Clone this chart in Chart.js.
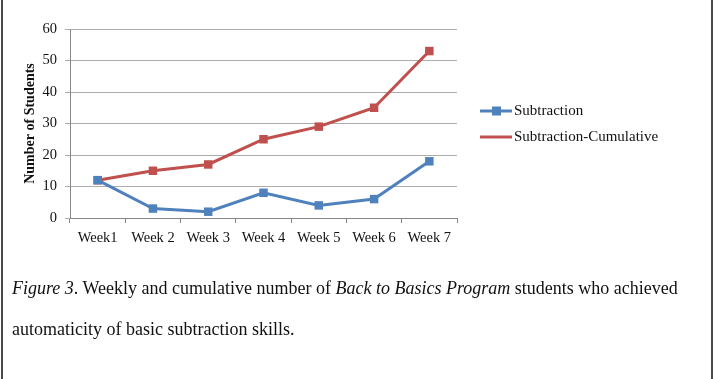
<!DOCTYPE html>
<html>
<head>
<meta charset="utf-8">
<script src="https://cdn.jsdelivr.net/npm/chart.js@4.4.1/dist/chart.umd.min.js"></script>
<style>
  html, body { margin: 0; padding: 0; background: #fff; }
  #wrap { position: relative; width: 716px; height: 379px; overflow: hidden; }
  #frame { position: absolute; left: 1px; top: -5px; width: 708px; height: 400px;
           border-left: 2px solid #4a4a4a; border-right: 2px solid #4a4a4a; }
  #chart { position: absolute; left: 0; top: 0; }
  .cap { position: absolute; left: 12px; font-family: 'Liberation Serif', 'Times New Roman', serif;
         font-size: 18px; color: #111; white-space: nowrap; line-height: 1; }
</style>
</head>
<body>
<div id="wrap">
  <canvas id="chart" width="716" height="260"></canvas>
  <div id="frame"></div>
  <div class="cap" style="top:279px"><i>Figure 3</i>. Weekly and cumulative number of <i>Back to Basics Program</i> students who achieved</div>
  <div class="cap" style="top:320px">automaticity of basic subtraction skills.</div>
</div>
<script>
// chart data
const weeks = ['Week1', 'Week 2', 'Week 3', 'Week 4', 'Week 5', 'Week 6', 'Week 7'];
const subtraction = [12, 3, 2, 8, 4, 6, 18];
const cumulative = [12, 15, 17, 25, 29, 35, 53];
const yTicks = [0, 10, 20, 30, 40, 50, 60];

const blue = '#4F81BD';
const red = '#C0504D';
const serif = "'Liberation Serif', 'Times New Roman', serif";

// Excel-style legend on the right
const sideLegend = {
  id: 'sideLegend',
  afterDraw(chart) {
    const ctx = chart.ctx;
    const items = [
      { label: 'Subtraction', color: blue, marker: true, y: 111 },
      { label: 'Subtraction-Cumulative', color: red, marker: false, y: 137 }
    ];
    ctx.save();
    items.forEach(function(it) {
      ctx.strokeStyle = it.color;
      ctx.lineWidth = 3;
      ctx.beginPath();
      ctx.moveTo(480, it.y);
      ctx.lineTo(512, it.y);
      ctx.stroke();
      if (it.marker) {
        ctx.fillStyle = it.color;
        ctx.fillRect(492, it.y - 4.5, 9, 9);
      }
      ctx.fillStyle = '#111';
      ctx.font = '15px ' + serif;
      ctx.textBaseline = 'middle';
      ctx.fillText(it.label, 514, it.y);
    });
    ctx.restore();
  }
};

new Chart(document.getElementById('chart'), {
  type: 'line',
  data: {
    labels: weeks,
    datasets: [
      {
        label: 'Subtraction',
        data: subtraction,
        borderColor: blue,
        backgroundColor: blue,
        borderWidth: 3,
        pointStyle: 'rect',
        pointRadius: 6,
        pointBorderWidth: 0,
        tension: 0
      },
      {
        label: 'Subtraction-Cumulative',
        data: cumulative,
        borderColor: red,
        backgroundColor: red,
        borderWidth: 3,
        pointStyle: 'rect',
        pointRadius: 6,
        pointBorderWidth: 0,
        tension: 0
      }
    ]
  },
  options: {
    responsive: false,
    animation: false,
    layout: { padding: { left: 0, right: 259, top: 29, bottom: 12 } },
    plugins: {
      legend: { display: false },
      tooltip: { enabled: false }
    },
    scales: {
      x: {
        offset: true,
        afterFit: function(scale) { scale.height = 30; },
        border: { color: '#868686', width: 1 },
        grid: { drawOnChartArea: false, drawTicks: true, tickLength: 5, color: '#868686', offset: true },
        ticks: { color: '#111', padding: 6, font: { family: serif, size: 14.5 }, maxRotation: 0 }
      },
      y: {
        min: 0,
        max: 60,
        afterFit: function(scale) { scale.width = 70; },
        afterBuildTicks: function(scale) { scale.ticks = yTicks.map(v => ({ value: v })); },
        border: { color: '#868686', width: 1 },
        grid: { color: '#adadad', tickLength: 5 },
        ticks: { color: '#111', padding: 8, font: { family: serif, size: 14.5 } },
        title: {
          display: true,
          text: 'Number of Students',
          color: '#111',
          padding: { top: 22, bottom: 0 },
          font: { family: serif, size: 14, weight: 'bold' }
        }
      }
    }
  },
  plugins: [sideLegend]
});
</script>
</body>
</html>
